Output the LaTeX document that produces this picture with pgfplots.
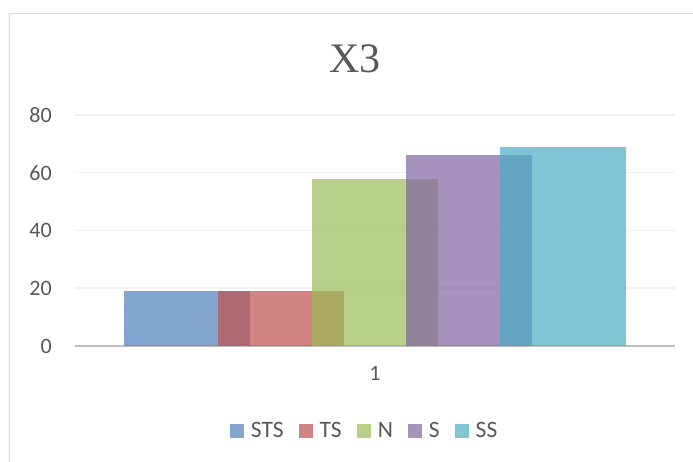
\documentclass[border=0pt]{standalone}
\usepackage{fontspec}
\setmainfont{Carlito}
\newfontfamily\titlefont{Liberation Serif}
\usepackage{pgfplots}
\pgfplotsset{compat=1.18}

\definecolor{cSTS}{HTML}{4F81BD}
\definecolor{cTS}{HTML}{C0504D}
\definecolor{cN}{HTML}{9BBB59}
\definecolor{cS}{HTML}{8064A2}
\definecolor{cSS}{HTML}{4BACC6}
\definecolor{txt}{HTML}{595959}
\definecolor{frame}{HTML}{D9D9D9}
\definecolor{gridc}{HTML}{F0F0F0}
\definecolor{basec}{HTML}{BFBFBF}

\begin{document}
\begin{tikzpicture}[x=1pt,y=1pt]
\useasboundingbox (0,0) rectangle (693,462);
\fill[white] (0,0) rectangle (693,462);
% chart frame (only left and top edges are visible)
\draw[line width=1.5pt, frame] (9.5,0) -- (9.5,448.5) -- (693,448.5);
% title
\node[font=\titlefont\fontsize{42}{48}\selectfont, text=txt, anchor=base] at (355,389) {X3};

\begin{axis}[
    at={(75pt,116pt)}, anchor=south west,
    scale only axis,
    width=600pt, height=231pt,
    xmin=-1, xmax=1,
    ymin=0, ymax=80,
    ytick={0,20,40,60,80},
    xtick={0}, xticklabels={1},
    major tick length=0pt,
    ymajorgrids,
    grid style={gridc, line width=1.5pt},
    axis x line*=bottom,
    axis y line*=left,
    x axis line style={-, basec, line width=2.5pt},
    y axis line style={draw=none},
    tick label style={font=\fontsize{22}{26}\selectfont, text=txt},
    /pgf/number format/assume math mode=true,
    yticklabel style={inner sep=0pt, anchor=east},
    xticklabel style={inner sep=0pt, anchor=north},
    yticklabel shift=23pt,
    xticklabel shift=20pt,
    ybar, bar width=125.5pt,
    every axis plot/.append style={draw=none, fill opacity=0.7},
    legend columns=5,
    legend style={
        at={(0.481,-0.368)}, anchor=center,
        draw=none, fill=none,
        nodes={font=\fontsize{23.5}{28}\selectfont, text=txt, text opacity=1, inner sep=0pt},
        /tikz/every odd column/.append style={column sep=7pt},
        /tikz/every even column/.append style={column sep=15pt},
    },
    legend image code/.code={\fill[#1,draw=none] (0pt,-7pt) rectangle (14pt,7pt);},
]
\addplot[fill=cSTS, bar shift=-188pt] coordinates {(0,19)};
\addlegendentry{STS}
\addplot[fill=cTS, bar shift=-94pt] coordinates {(0,19)};
\addlegendentry{TS}
\addplot[fill=cN, bar shift=0pt] coordinates {(0,58)};
\addlegendentry{N}
\addplot[fill=cS, bar shift=94pt] coordinates {(0,66)};
\addlegendentry{S}
\addplot[fill=cSS, bar shift=188pt] coordinates {(0,69)};
\addlegendentry{SS}
\end{axis}
\end{tikzpicture}
\end{document}
